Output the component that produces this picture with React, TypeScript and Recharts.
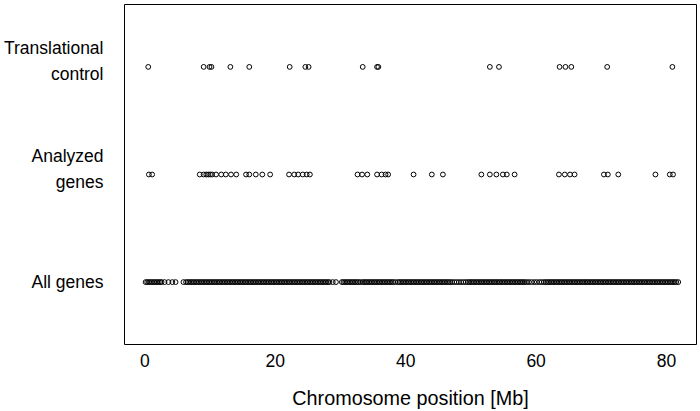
import { ScatterChart, Scatter, XAxis, YAxis, ReferenceArea } from 'recharts';

// positions in Mb
const translationalControl = [
  0.5, 9.0, 9.9, 10.2, 13.1, 16.0, 22.2, 24.6, 25.1, 33.4, 35.6, 35.8, 52.9, 54.3,
  63.6, 64.5, 65.4, 70.9, 80.9,
];

const analyzedGenes = [
  0.6, 1.1, 8.4, 9.0, 9.4, 9.7, 10.0, 10.3, 10.9, 11.7, 12.4, 13.2, 14.0, 15.5, 16.0,
  17.0, 18.0, 19.2, 22.1, 22.9, 23.5, 24.2, 24.8, 25.3, 32.6, 33.3, 34.1, 35.6, 36.3,
  36.9, 37.3, 41.2, 44.0, 45.7, 51.6, 52.9, 53.9, 54.9, 55.5, 56.7, 63.5, 64.4, 65.2,
  65.9, 70.4, 71.0, 72.6, 78.3, 80.5, 81.0,
];

// the all-genes row is a near solid band, so it is listed densely
const allGenes = [
  0.1, 0.35, 0.6, 0.85, 1.1, 1.35, 1.6, 1.85, 2.1, 2.35, 2.55,
  3.0, 3.6, 4.2, 4.7, 5.9,
  6.3, 6.55, 6.8, 7.05, 7.3, 7.55, 7.8, 8.05, 8.3, 8.55, 8.8, 9.05, 9.3, 9.55, 9.8,
  10.05, 10.3, 10.55, 10.8, 11.05, 11.3, 11.55, 11.8, 12.05, 12.3, 12.55, 12.8, 13.05,
  13.3, 13.55, 13.8, 14.05, 14.3, 14.55, 14.8, 15.05, 15.3, 15.55, 15.8, 16.05, 16.3,
  16.55, 16.8, 17.05, 17.3, 17.55, 17.8, 18.05, 18.3, 18.55, 18.8, 19.05, 19.3, 19.55,
  19.8, 20.05, 20.3, 20.55, 20.8, 21.05, 21.3, 21.55, 21.8, 22.05, 22.3, 22.55, 22.8,
  23.05, 23.3, 23.55, 23.8, 24.05, 24.3, 24.55, 24.8, 25.05, 25.3, 25.55, 25.8, 26.05,
  26.3, 26.55, 26.8, 27.05, 27.3, 27.55, 27.8, 28.05, 28.3,
  28.8, 29.3,
  30.2, 30.45, 30.7, 30.95, 31.2, 31.45, 31.7, 31.95, 32.2, 32.45, 32.7, 33.0, 33.35,
  33.6, 33.85, 34.1, 34.35, 34.6, 34.85, 35.1, 35.35, 35.6, 35.85, 36.1, 36.35, 36.6,
  36.85, 37.1, 37.35, 37.6, 37.85, 38.1, 38.4, 38.8, 39.05, 39.3, 39.55, 39.8, 40.05,
  40.3, 40.55, 40.8, 41.05, 41.3, 41.55, 41.8, 42.05, 42.3, 42.55, 42.8, 43.05, 43.3,
  43.55, 43.8, 44.05, 44.3, 44.55, 44.8, 45.05, 45.3, 45.55, 45.8, 46.05, 46.3, 46.55,
  46.8, 47.1, 47.45, 47.8, 48.15, 48.5, 48.85, 49.2, 49.5, 49.75, 50.0, 50.25, 50.5,
  50.75, 51.0, 51.25, 51.5, 51.75, 52.0, 52.25, 52.5, 52.75, 53.0, 53.25, 53.5, 53.75,
  54.0, 54.25, 54.5, 54.75, 55.0, 55.25, 55.5, 55.75, 56.0, 56.25, 56.5, 56.75, 57.0,
  57.25, 57.5, 57.75, 58.0, 58.25, 58.55, 58.9, 59.3, 59.7, 60.1, 60.5, 60.85, 61.2,
  61.5, 61.75, 62.0, 62.25, 62.5, 62.75, 63.0, 63.25, 63.5, 63.75, 64.0, 64.25, 64.5,
  64.75, 65.0, 65.25, 65.5, 65.75, 66.0, 66.25, 66.5, 66.75, 67.0, 67.25, 67.5, 67.75,
  68.0, 68.25, 68.5, 68.75, 69.0, 69.25, 69.5, 69.75, 70.0, 70.25, 70.5, 70.75, 71.0,
  71.25, 71.5, 71.75, 72.0, 72.25, 72.5, 72.75, 73.0, 73.25, 73.5, 73.75, 74.0, 74.25,
  74.5, 74.75, 75.0, 75.25, 75.5, 75.75, 76.0, 76.25, 76.5, 76.75, 77.0, 77.25, 77.5,
  77.75, 78.0, 78.25, 78.5, 78.75, 79.0, 79.25, 79.5, 79.75, 80.0, 80.25, 80.5, 80.75,
  81.0, 81.25, 81.5, 81.8,
];

const rowLabels: Record<number, string[]> = {
  1: ['All genes'],
  2: ['Analyzed', 'genes'],
  3: ['Translational', 'control'],
};

const xTicks = [0, 20, 40, 60, 80];
const xDomain = [-3.14, 84.6];
const yDomain = [0.42, 3.58];

const FONT = '"Liberation Sans", Arial, Helvetica, sans-serif';

const toPoints = (xs: number[], row: number) => xs.map((x) => ({ x, y: row }));

const Ring = (props: any) => (
  <circle cx={props.cx} cy={props.cy} r={2.4} fill="none" stroke="#000" strokeWidth={1} />
);

const RowTick = (props: any) => {
  const { x, y, payload } = props;
  const lines = rowLabels[payload.value] || [];
  const offs = lines.length > 1 ? [-12.5, 13] : [6];
  return (
    <g>
      {lines.map((l, i) => (
        <text key={l} x={x - 13} y={y + offs[i]} textAnchor="end" fontFamily={FONT} fontSize={17.5} fill="#000">
          {l}
        </text>
      ))}
    </g>
  );
};

const PosTick = (props: any) => {
  const { x, y, payload } = props;
  return (
    <text x={x} y={y + 14} textAnchor="middle" fontFamily={FONT} fontSize={17.5} fill="#000">
      {payload.value}
    </text>
  );
};

const AxisTitle = (props: any) => {
  const vb = props.viewBox || {};
  return (
    <text x={vb.x + vb.width / 2} y={vb.y + 60} textAnchor="middle" fontFamily={FONT} fontSize={19.8} fill="#000">
      Chromosome position [Mb]
    </text>
  );
};

export default function App() {
  return (
    <div style={{ position: 'absolute', left: 0, top: 0, background: '#fff' }}>
      <ScatterChart width={700} height={411} margin={{ top: 4.5, right: 3.5, left: 0.5, bottom: 0 }}>
        <XAxis
          type="number"
          dataKey="x"
          domain={xDomain}
          allowDataOverflow
          ticks={xTicks}
          axisLine={false}
          tickLine={false}
          height={66.5}
          tick={<PosTick />}
          label={<AxisTitle />}
        />
        <YAxis
          type="number"
          dataKey="y"
          domain={yDomain}
          allowDataOverflow
          ticks={[1, 2, 3]}
          axisLine={false}
          tickLine={false}
          width={124}
          tick={<RowTick />}
        />
        <ReferenceArea x1={xDomain[0]} x2={xDomain[1]} y1={yDomain[0]} y2={yDomain[1]} fill="none" stroke="#000" strokeWidth={1} />
        <Scatter data={toPoints(allGenes, 1)} shape={<Ring />} isAnimationActive={false} />
        <Scatter data={toPoints(analyzedGenes, 2)} shape={<Ring />} isAnimationActive={false} />
        <Scatter data={toPoints(translationalControl, 3)} shape={<Ring />} isAnimationActive={false} />
      </ScatterChart>
    </div>
  );
}
